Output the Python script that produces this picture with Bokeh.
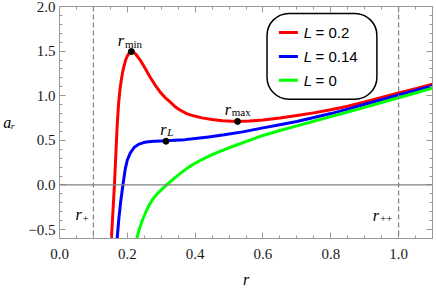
from bokeh.plotting import figure
from bokeh.models import LinearAxis, FixedTicker, Span, BoxAnnotation, Label, Range1d
from bokeh.embed import file_html
from bokeh.resources import INLINE

# ---- data ----
red_x = [0.153, 0.158, 0.162, 0.166, 0.170, 0.174, 0.178, 0.182, 0.186, 0.190, 0.195,
         0.200, 0.205, 0.212, 0.218, 0.225, 0.238, 0.252, 0.267, 0.282, 0.296, 0.310,
         0.326, 0.340, 0.355, 0.375, 0.395, 0.420, 0.450, 0.480, 0.525, 0.560, 0.600,
         0.650, 0.700, 0.750, 0.800, 0.850, 0.900, 0.950, 1.000, 1.050, 1.100]
red_y = [-0.60, -0.27, 0.00, 0.33, 0.66, 0.90, 1.06, 1.17, 1.26, 1.33, 1.40,
         1.445, 1.475, 1.495, 1.49, 1.465, 1.40, 1.31, 1.21, 1.12, 1.045, 0.985,
         0.93, 0.88, 0.84, 0.80, 0.775, 0.752, 0.733, 0.72, 0.712, 0.716, 0.727,
         0.75, 0.778, 0.808, 0.842, 0.882, 0.93, 0.98, 1.03, 1.08, 1.13]

blue_x = [0.170, 0.175, 0.180, 0.187, 0.194, 0.200, 0.209, 0.220, 0.233, 0.248, 0.262,
          0.280, 0.300, 0.314, 0.340, 0.370, 0.400, 0.440, 0.486, 0.540, 0.600, 0.650,
          0.700, 0.750, 0.800, 0.850, 0.900, 0.950, 1.000, 1.050, 1.100]
blue_y = [-0.60, -0.38, -0.20, 0.00, 0.18, 0.28, 0.36, 0.42, 0.455, 0.475, 0.485,
          0.49, 0.493, 0.495, 0.50, 0.508, 0.52, 0.538, 0.562, 0.595, 0.64, 0.675,
          0.712, 0.756, 0.80, 0.85, 0.905, 0.955, 1.01, 1.06, 1.11]

green_x = [0.228, 0.235, 0.245, 0.255, 0.265, 0.275, 0.288, 0.300, 0.316, 0.340, 0.365,
           0.389, 0.420, 0.450, 0.486, 0.520, 0.560, 0.600, 0.650, 0.700, 0.750, 0.800,
           0.850, 0.900, 0.950, 1.000, 1.050, 1.100]
green_y = [-0.60, -0.50, -0.39, -0.30, -0.22, -0.16, -0.10, -0.055, 0.00, 0.08, 0.155,
           0.22, 0.285, 0.34, 0.395, 0.445, 0.50, 0.555, 0.61, 0.662, 0.714, 0.766,
           0.818, 0.87, 0.924, 0.978, 1.03, 1.085]

series_labels = ["0.2", "0.14", "0"]
series_colors = ["#ff0000", "#0000ff", "#00ff00"]

mark_x = [0.212, 0.314, 0.525]
mark_y = [1.495, 0.49, 0.712]
mark_names = ["min", "L", "max"]

horizons = [0.1, 1.0]
horizon_names = ["+", "++"]

x_major = [0.0, 0.2, 0.4, 0.6, 0.8, 1.0]
y_major = [-0.5, 0.0, 0.5, 1.0, 1.5, 2.0]
x_minor = [round(i * 0.05, 2) for i in range(0, 23)]
y_minor = [round(-0.6 + i * 0.1, 1) for i in range(0, 27)]

# ---- figure ----
p = figure(width=434, height=290, x_range=Range1d(0, 1.1), y_range=Range1d(-0.6, 2.0),
           output_backend="svg", toolbar_location=None,
           min_border_left=55, min_border_right=2, min_border_top=6, min_border_bottom=51)
p.grid.visible = False
p.outline_line_color = "#999999"
p.background_fill_color = "white"
p.border_fill_color = "white"

FRAME = "#999999"
TICKFONT = "Liberation Serif"
SERIF = "Liberation Serif"


def style_axis(ax, show_labels):
    ax.axis_line_color = FRAME
    ax.major_tick_line_color = FRAME
    ax.minor_tick_line_color = FRAME
    ax.major_tick_in = 6
    ax.major_tick_out = 0
    ax.minor_tick_in = 3
    ax.minor_tick_out = 0
    ax.major_label_text_font = TICKFONT
    ax.major_label_text_font_size = "15px"
    ax.major_label_text_color = "#1a1a1a"
    if not show_labels:
        ax.major_label_text_font_size = "1px"
        ax.major_label_standoff = 0


xt = FixedTicker(ticks=x_major, minor_ticks=x_minor)
yt = FixedTicker(ticks=y_major, minor_ticks=y_minor)

xax = p.xaxis[0]
xax.ticker = xt
xax.major_label_overrides = {v: f"{v:.1f}" for v in x_major}
style_axis(xax, True)
xax.major_label_standoff = 10
xax.axis_label = "r"
xax.axis_label_text_font = SERIF
xax.axis_label_text_font_style = "italic"
xax.axis_label_text_font_size = "16px"
xax.axis_label_text_color = "black"
xax.axis_label_standoff = 9

yax = p.yaxis[0]
yax.ticker = yt
yax.major_label_overrides = {v: (f"{v:.1f}".replace("-", "\u2212")) for v in y_major}
style_axis(yax, True)
yax.major_label_standoff = 4
yax.axis_label = "a\u1d63"
yax.axis_label_text_font = SERIF
yax.axis_label_text_font_style = "italic"
yax.axis_label_text_font_size = "16px"
yax.axis_label_text_color = "black"
yax.axis_label_standoff = 10
try:
    yax.axis_label_orientation = "horizontal"
except Exception:
    pass

top = LinearAxis(ticker=FixedTicker(ticks=x_major, minor_ticks=x_minor))
top.major_label_overrides = {v: "" for v in x_major}
style_axis(top, False)
p.add_layout(top, "above")

right = LinearAxis(ticker=FixedTicker(ticks=y_major, minor_ticks=y_minor))
right.major_label_overrides = {v: "" for v in y_major}
style_axis(right, False)
p.add_layout(right, "right")

# reference lines
p.add_layout(Span(location=0, dimension="width", line_color="#808080", line_width=1.2))
for h in horizons:
    p.add_layout(Span(location=h, dimension="height", line_color="#888888",
                      line_width=1.3, line_dash="5 3"))

# curves
for xs, ys, c in [(red_x, red_y, series_colors[0]), (blue_x, blue_y, series_colors[1]),
                  (green_x, green_y, series_colors[2])]:
    p.line(xs, ys, line_color=c, line_width=3, line_join="round")

p.scatter(mark_x, mark_y, size=6, color="black")


def rlabel(x, y, sub, sub_italic=False, dx=0.021, dy=-0.035):
    p.add_layout(Label(x=x, y=y, text="r", text_font=SERIF, text_font_style="italic",
                       text_font_size="16px", text_color="black", text_baseline="alphabetic"))
    p.add_layout(Label(x=x + dx, y=y + dy, text=sub, text_font=SERIF,
                       text_font_style="italic" if sub_italic else "normal",
                       text_font_size="11px", text_color="black", text_baseline="alphabetic"))


# point labels
rlabel(0.172, 1.615, mark_names[0])
rlabel(0.297, 0.625, mark_names[1], sub_italic=True)
rlabel(0.487, 0.85, mark_names[2])
# horizon labels
rlabel(0.047, -0.335, horizon_names[0], dy=-0.04)
rlabel(0.924, -0.339, horizon_names[1], dy=-0.035)

# legend
p.add_layout(BoxAnnotation(left=0.612, right=0.936, bottom=0.961, top=1.922,
                           fill_color="white", fill_alpha=1.0, line_color="black",
                           line_alpha=1.0, line_width=1.5, border_radius=22,
                           level="underlay"))
rows_y = [1.709, 1.441, 1.173]
for lab, c, ry in zip(series_labels, series_colors, rows_y):
    p.line([0.647, 0.703], [ry, ry], line_color=c, line_width=3)
    p.add_layout(Label(x=0.72, y=ry, text="L", text_font="Liberation Sans",
                       text_font_style="italic", text_font_size="15px", text_color="black",
                       text_baseline="middle"))
    p.add_layout(Label(x=0.755, y=ry, text="= " + lab, text_font="Liberation Sans",
                       text_font_size="15px", text_color="black", text_baseline="middle"))

open("out.html", "w").write(file_html(p, INLINE))
